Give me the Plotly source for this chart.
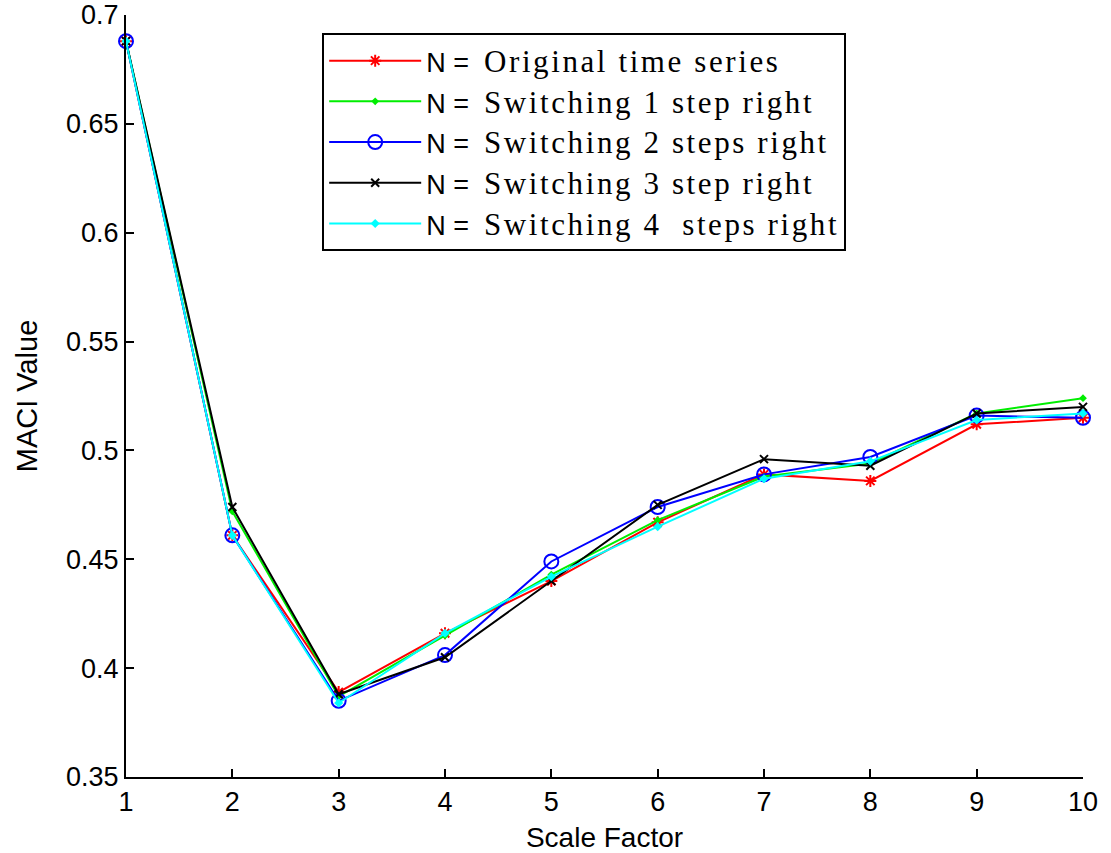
import plotly.graph_objects as go

scale_factor = [1, 2, 3, 4, 5, 6, 7, 8, 9, 10]

original = [0.688, 0.461, 0.389, 0.416, 0.440, 0.467, 0.489, 0.486, 0.512, 0.515]
switch_1 = [0.688, 0.472, 0.387, 0.415, 0.443, 0.468, 0.488, 0.494, 0.517, 0.524]
switch_2 = [0.688, 0.461, 0.385, 0.406, 0.449, 0.474, 0.489, 0.497, 0.516, 0.515]
switch_3 = [0.688, 0.474, 0.388, 0.405, 0.440, 0.475, 0.496, 0.493, 0.517, 0.520]
switch_4 = [0.688, 0.461, 0.384, 0.416, 0.442, 0.465, 0.487, 0.495, 0.514, 0.517]

labels = [
    "Original time series",
    "Switching 1 step right",
    "Switching 2 steps right",
    "Switching 3 step right",
    "Switching 4 &nbsp;steps right",
]

SANS = "Liberation Sans, Arial, sans-serif"

def name(lbl):
    return ('<span style="font-size:27px">N = &nbsp;</span>'
            '<span style="font-family:Liberation Serif;font-size:31px;letter-spacing:2.6px">%s</span>' % lbl)

series = [
    (original, "#ff0000", dict(symbol="asterisk-open", size=10, line=dict(width=2, color="#ff0000"))),
    (switch_1, "#00ee00", dict(symbol="diamond", size=6, color="#00ee00")),
    (switch_2, "#0000ff", dict(symbol="circle-open", size=14, line=dict(width=2, color="#0000ff"))),
    (switch_3, "#000000", dict(symbol="x-thin-open", size=8, line=dict(width=2, color="#000000"))),
    (switch_4, "#00ffff", dict(symbol="diamond", size=7, color="#00ffff")),
]

fig = go.Figure()
for (vals, col, mk), lbl in zip(series, labels):
    fig.add_trace(go.Scatter(
        x=scale_factor, y=vals, mode="lines+markers", name=name(lbl),
        line=dict(color=col, width=2), marker=mk, cliponaxis=False,
    ))

fig.update_layout(
    width=1111, height=853,
    margin=dict(l=126, r=28, t=15, b=76),
    paper_bgcolor="white", plot_bgcolor="white",
    font=dict(family=SANS, color="black"),
    showlegend=True,
    legend=dict(
        x=0.205, y=0.976, xanchor="left", yanchor="top",
        bgcolor="white", bordercolor="black", borderwidth=2,
        font=dict(family=SANS, size=29, color="black"),
        itemwidth=92, tracegroupgap=0,
    ),
)
fig.update_xaxes(
    range=[1, 10], tickmode="array", tickvals=scale_factor,
    ticktext=[str(v) for v in scale_factor],
    showline=True, linecolor="black", linewidth=2, mirror=False,
    ticks="inside", ticklen=8, tickwidth=2, tickcolor="black",
    showgrid=False, zeroline=False,
    tickfont=dict(size=27, family=SANS),
    title=dict(text="Scale Factor", font=dict(size=28, family=SANS), standoff=13),
    automargin=False,
)
fig.update_yaxes(
    range=[0.35, 0.7], tickmode="array",
    tickvals=[0.35, 0.4, 0.45, 0.5, 0.55, 0.6, 0.65, 0.7],
    ticktext=["0.35", "0.4", "0.45", "0.5", "0.55", "0.6", "0.65", "0.7"],
    showline=True, linecolor="black", linewidth=2, mirror=False,
    ticks="inside", ticklen=8, tickwidth=2, tickcolor="black",
    showgrid=False, zeroline=False,
    tickfont=dict(size=27, family=SANS),
    title=dict(text="MACI Value", font=dict(size=29, family=SANS), standoff=20),
    automargin=False,
)

fig.write_html("out.html")
